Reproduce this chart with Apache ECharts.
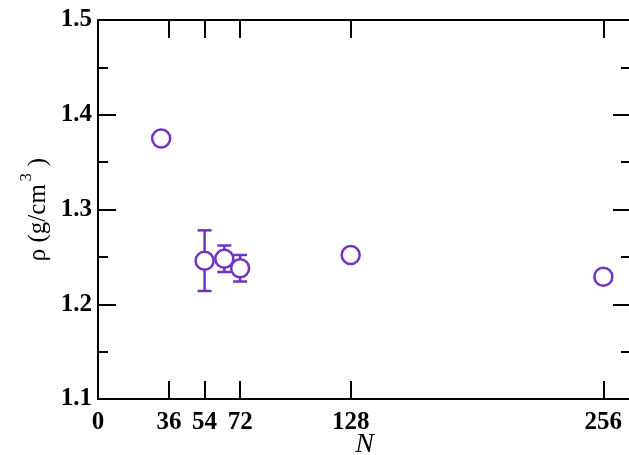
<!DOCTYPE html>
<html><head><meta charset="utf-8">
<script src="https://cdn.jsdelivr.net/npm/echarts@6/dist/echarts.min.js"></script>
<style>html,body{margin:0;padding:0;background:#fff}#c{width:629px;height:455px}</style>
</head><body><div id="c"></div>
<script>
const nValues = [32, 54, 64, 72, 128, 256];
const rhoValues = [1.375, 1.246, 1.248, 1.238, 1.252, 1.229];
const rhoErrors = [0, 0.032, 0.014, 0.014, 0, 0];
const xTickValues = [0, 36, 54, 72, 128, 256];
const purple = '#7033c4';
const fontFam = '"Liberation Serif", "DejaVu Serif", serif';

const points = nValues.map((n, i) => [n, rhoValues[i]]);
const bars = nValues.map((n, i) => [n, rhoValues[i], rhoErrors[i]]);

const lineSt = {color: '#000', width: 2};
const tickLabel = {fontFamily: fontFam, fontWeight: 'bold', fontSize: 25, color: '#000'};

function yAx(pos, showLine, interval, tickLen, extra) {
  return Object.assign({
    type: 'value', min: 1.1, max: 1.5, interval: interval, position: pos, offset: 0,
    axisLine: {show: showLine, onZero: false, lineStyle: lineSt},
    axisTick: {show: true, inside: true, length: tickLen, lineStyle: lineSt},
    axisLabel: {show: false}, splitLine: {show: false}
  }, extra || {});
}

const chart = echarts.init(document.getElementById('c'));
chart.setOption({
  animation: false,
  grid: {left: 98, top: 20, right: -2, bottom: 56, containLabel: false, outerBoundsMode: 'none'},
  xAxis: [{
    type: 'value', min: 0, max: 270, position: 'bottom',
    name: 'N', nameLocation: 'middle', nameGap: 32, nameMoveOverlap: false,
    nameTextStyle: {fontFamily: fontFam, fontStyle: 'italic', fontSize: 28, color: '#000'},
    axisLine: {show: true, onZero: false, lineStyle: lineSt},
    axisTick: {show: true, inside: true, length: 18, customValues: xTickValues, lineStyle: lineSt},
    axisLabel: Object.assign({customValues: xTickValues, margin: 11}, tickLabel),
    splitLine: {show: false}
  }, {
    type: 'value', min: 0, max: 270, position: 'top',
    axisLine: {show: true, onZero: false, lineStyle: lineSt},
    axisTick: {show: true, inside: true, length: 18, customValues: xTickValues, lineStyle: lineSt},
    axisLabel: {show: false}, splitLine: {show: false}
  }],
  yAxis: [
    yAx('left', true, 0.1, 18, {
      name: '{a|ρ (g/cm}{s|3}{a|)}', nameLocation: 'middle', nameGap: 47, nameRotate: 90, nameMoveOverlap: false,
      nameTextStyle: {
        rich: {
          a: {fontFamily: fontFam, fontSize: 25, color: '#000', lineHeight: 32, verticalAlign: 'bottom'},
          s: {fontFamily: fontFam, fontSize: 16, color: '#000', lineHeight: 32, verticalAlign: 'top', padding: [0, 7, 0, 3]}
        }
      },
      axisLabel: Object.assign({show: true, margin: 6, formatter: v => v.toFixed(1)}, tickLabel)
    }),
    yAx('left', false, 0.05, 10),
    yAx('right', true, 0.1, 18),
    yAx('right', false, 0.05, 10)
  ],
  series: [
    {
      type: 'custom', z: 2,
      data: bars,
      renderItem: function (params, api) {
        const x = api.value(0), y = api.value(1), e = api.value(2);
        if (!e) return null;
        const top = api.coord([x, y + e]);
        const bot = api.coord([x, y - e]);
        const hw = 7;
        const st = {stroke: purple, lineWidth: 2.5, fill: null};
        return {type: 'group', children: [
          {type: 'line', shape: {x1: top[0], y1: top[1], x2: bot[0], y2: bot[1]}, style: st},
          {type: 'line', shape: {x1: top[0] - hw, y1: top[1], x2: top[0] + hw, y2: top[1]}, style: st},
          {type: 'line', shape: {x1: bot[0] - hw, y1: bot[1], x2: bot[0] + hw, y2: bot[1]}, style: st}
        ]};
      }
    },
    {
      type: 'scatter', z: 3,
      data: points,
      symbol: 'circle', symbolSize: 18,
      itemStyle: {color: '#fff', borderColor: purple, borderWidth: 2.5, opacity: 1}
    }
  ]
});
</script></body></html>
